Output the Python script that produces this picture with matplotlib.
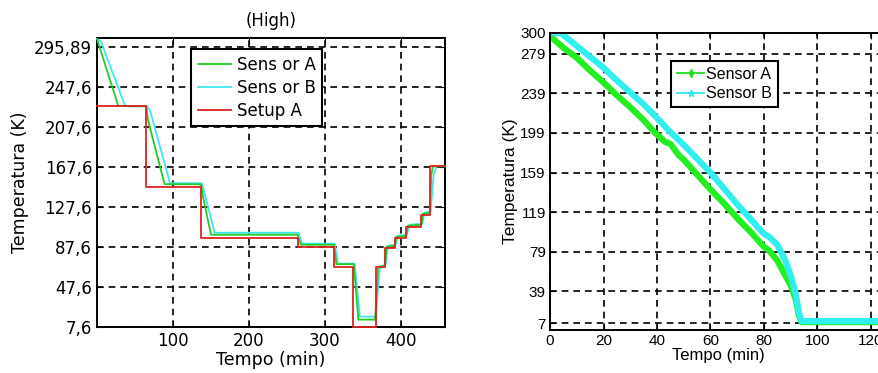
import matplotlib
matplotlib.use('Agg')
import matplotlib.pyplot as plt
from matplotlib import font_manager
from matplotlib.lines import Line2D

# ---- left panel: staged cooling (High) ----
setup_t = [0, 65, 136.5, 265, 312, 337, 367, 379, 392, 407, 427, 438, 458]
setup_T = [228.6, 147.6, 96.6, 87.3, 67.6, 7.6, 67.6, 86.6, 96.6, 107.6, 119.6, 168.6, 168.6]

sensA_t = [0, 28, 65, 67, 89, 137, 139, 150, 264, 268, 312, 315, 338, 344, 366, 370,
           379, 381, 392, 394, 407, 409, 427, 429, 438, 440, 442, 458]
sensA_T = [296, 229, 228.6, 215, 150.6, 150.5, 140, 100, 100, 90, 90, 70.5, 70.5, 15, 15, 68,
           69, 88, 89, 98, 99, 109, 110, 121, 122, 160, 168.6, 168.6]

sensB_t = [0, 5, 37, 42, 66, 70, 96, 138, 142, 155, 265, 270, 313, 317, 339, 346, 367, 372,
           380, 383, 393, 396, 408, 411, 428, 431, 439, 441, 443, 447, 458]
sensB_T = [296, 294, 229, 228.6, 228.6, 224, 151.6, 151.6, 140, 102, 102, 91, 91, 71, 71, 18, 18, 66,
           71, 89, 90, 99, 100, 110, 111, 122, 123, 140, 160, 168.6, 168.6]

left_yticks = [7.6, 47.6, 87.6, 127.6, 167.6, 207.6, 247.6, 287.6]
left_ylabels = ['7,6', '47,6', '87,6', '127,6', '167,6', '207,6', '247,6', '295,89']
left_xticks = [100, 200, 300, 400]

# ---- right panel: continuous cooling ----
contA_t = [0, 5, 10, 15, 20, 25, 30, 35, 39, 43, 45, 48, 50, 55, 60, 65, 70, 75, 80, 82, 85,
           88, 90, 92, 93, 94, 100, 110, 126]
contA_T = [297, 285, 275, 262, 250, 237, 225, 212, 200, 190, 188, 177, 172, 157, 142, 128, 113, 99, 84, 80, 70,
           55, 45, 30, 15, 8, 8, 8, 8]

contB_t = [0, 4, 10, 15, 20, 25, 30, 35, 39, 45, 50, 55, 60, 65, 70, 75, 80, 82, 85,
           88, 90, 92, 93, 94, 100, 110, 126]
contB_T = [300, 300, 287, 276, 265, 252, 240, 228, 217, 200, 187, 173, 159, 143, 127, 112, 97, 94, 86,
           70, 55, 35, 18, 9, 9, 9, 9]

right_yticks = [7, 39, 79, 119, 159, 199, 239, 279, 300]
right_xticks = [0, 20, 40, 60, 80, 100, 120]

names = {f.name for f in font_manager.fontManager.ttflist}
narrow = 'Liberation Sans Narrow' if 'Liberation Sans Narrow' in names else 'Liberation Sans'

plt.rcParams['font.family'] = ['DejaVu Sans']
grid_style = dict(color='k', linestyle=(0, (4, 3)), linewidth=1.2)

fig = plt.figure(figsize=(8.79, 3.73), dpi=100)

# left
ax1 = fig.add_axes([97/879, 46/373, 348/879, 289/373])
ax1.plot(sensB_t, sensB_T, color='#3fe6ee', lw=1.3, label='Sens or B', clip_on=False, zorder=3)
ax1.plot(sensA_t, sensA_T, color='#22cc22', lw=1.3, label='Sens or A', clip_on=False, zorder=3.1)
ax1.step(setup_t, setup_T, where='post', color='#dd2222', lw=1.3, label='Setup A',
         clip_on=False, zorder=3.2)
ax1.set_xticks(left_xticks)
ax1.set_yticks(left_yticks)
ax1.set_yticklabels(left_ylabels)
ax1.set_xlim(0, 458)
ax1.set_ylim(7.6, 297)
ax1.tick_params(direction='in', top=True, right=True, labelsize=12, length=4)
ax1.set_axisbelow(True)
ax1.grid(True, **grid_style)
for s in ax1.spines.values():
    s.set_linewidth(1.4)
ax1.set_title('(High)', fontsize=12, pad=9)
ax1.set_xlabel('Tempo (min)', fontsize=12.5, labelpad=1)
ax1.set_ylabel('Temperatura (K)', fontsize=12.5, labelpad=4)
h, l = ax1.get_legend_handles_labels()
leg1 = ax1.legend([h[1], h[0], h[2]], [l[1], l[0], l[2]], loc='upper left',
                  bbox_to_anchor=(0.27, 0.962), borderaxespad=0, fontsize=12,
                  handlelength=2.0, handletextpad=0.35, labelspacing=0.3,
                  borderpad=0.4, fancybox=False, framealpha=1, edgecolor='k')
leg1.get_frame().set_linewidth(1.5)

# right
ax2 = fig.add_axes([550/879, 43/373, 126*2.675/879, 297/373])
ax2.plot(contA_t, contA_T, color='#22ee22', lw=4.5, solid_capstyle='butt')
ax2.plot(contB_t, contB_T, color='#33eeee', lw=4.5, solid_capstyle='butt')
ax2.set_xticks(right_xticks)
ax2.set_yticks(right_yticks)
ax2.set_xlim(0, 126)
ax2.set_ylim(0, 300)
ax2.tick_params(direction='in', top=True, right=True, labelsize=11, length=4, pad=3)
for lab in ax2.get_xticklabels() + ax2.get_yticklabels():
    lab.set_family(narrow)
ax2.set_axisbelow(True)
ax2.grid(True, **grid_style)
for s in ax2.spines.values():
    s.set_linewidth(1.4)
ax2.set_xlabel('Tempo (min)', fontsize=12, family=narrow, labelpad=0)
ax2.set_ylabel('Temperatura (K)', fontsize=12.5, family=narrow, labelpad=2)
handles = [Line2D([], [], color='#22dd22', lw=1.3, marker='d', markersize=4),
           Line2D([], [], color='#33e6ee', lw=1.3, marker='*', markersize=5)]
leg2 = ax2.legend(handles, ['Sensor A', 'Sensor B'], loc='upper left',
                  bbox_to_anchor=(0.36, 0.906), borderaxespad=0,
                  prop={'family': narrow, 'size': 11.5},
                  handlelength=1.7, handletextpad=0.15, labelspacing=0.3,
                  borderpad=0.35, fancybox=False, framealpha=1, edgecolor='k')
leg2.get_frame().set_linewidth(1.5)

fig.savefig('out.png', dpi=100)
